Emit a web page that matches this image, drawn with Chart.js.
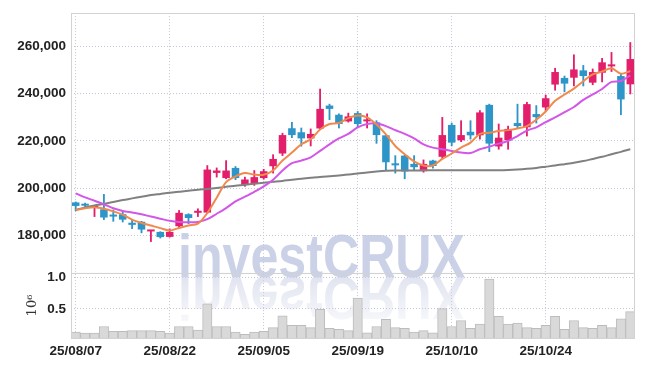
<!DOCTYPE html>
<html>
<head>
<meta charset="utf-8">
<script src="https://cdn.jsdelivr.net/npm/chart.js@4.4.1/dist/chart.umd.min.js"></script>
<style>
  body { margin: 0; background: #fff; }
  #box { width: 645px; height: 366px; }
</style>
</head>
<body>
<div id="box"><canvas id="Canvas"></canvas></div>
<script>
// dados do grafico
let datas = ["25/08/07","25/08/08","25/08/11","25/08/12","25/08/13","25/08/14","25/08/18","25/08/19","25/08/20","25/08/21",
  "25/08/22","25/08/25","25/08/26","25/08/27","25/08/28","25/08/29","25/09/01","25/09/02","25/09/03","25/09/04",
  "25/09/05","25/09/08","25/09/09","25/09/10","25/09/11","25/09/12","25/09/15","25/09/16","25/09/17","25/09/18",
  "25/09/19","25/09/22","25/09/23","25/09/24","25/09/25","25/09/26","25/09/29","25/09/30","25/10/01","25/10/02",
  "25/10/10","25/10/13","25/10/14","25/10/15","25/10/16","25/10/17","25/10/20","25/10/21","25/10/22","25/10/23",
  "25/10/24","25/10/27","25/10/28","25/10/29","25/10/30","25/10/31","25/11/03","25/11/04","25/11/05","25/11/06"];

let abertura = [194000,192900,191700,191100,188600,189000,185400,185800,181700,181500,
  179400,183900,189000,189600,189700,206500,204300,208600,201500,202000,
  204300,209300,214700,225400,223700,221100,225300,235000,231100,228300,
  231800,228300,227900,222400,210400,213800,210300,207200,211700,213300,
  226800,220300,223900,222400,235300,217700,220300,227600,225800,231400,
  234200,243900,246700,246800,249900,244700,248900,251600,247500,244000];
let maxima = [194200,193700,192400,197400,190800,190200,186400,186000,182200,181600,
  182800,190600,189200,191300,209600,208600,211700,209200,204700,207500,
  208000,214200,223300,227900,225500,225100,242000,235600,231500,231800,
  232500,231500,228600,222500,213800,214000,213800,212000,211900,230000,
  227600,228600,228600,232900,235600,227200,226300,235600,236400,235000,
  239400,250800,247500,256500,252000,250500,255000,257500,248500,261700];
let minima = [190400,191500,188000,186700,186000,185700,182900,181100,177400,178900,
  179300,183200,185000,188000,189300,204700,204000,203600,200800,201200,
  203800,206400,213800,221400,217800,217900,224900,229000,225500,228000,
  225800,225500,219000,207500,206400,204000,207500,206800,208500,212400,
  217900,219700,220800,220800,215500,216500,216500,225500,222100,227600,
  232800,241500,240800,243300,243300,243800,245000,249400,231100,239900];
let fechamento = [192500,192600,192200,187600,188000,186700,184500,182500,182100,179300,
  181500,189600,187400,190300,207900,207500,207500,204300,203700,204700,
  207200,212400,222500,222500,221100,223000,233600,233600,227200,230400,
  227200,229000,222500,211000,209700,207100,208900,210300,209400,222500,
  219300,222500,222400,232100,218900,221400,225100,226300,235600,230100,
  238100,249200,244300,250300,247500,249200,253300,252400,237600,254700];

let media5 = [190800,191500,191900,191300,190200,188800,186700,185300,184200,183100,
  182100,183200,184200,185000,189500,196000,202600,205000,206400,205800,
  205700,207500,211700,215100,218600,220700,224900,227200,227600,229700,
  230800,230000,227000,222800,217900,214400,211400,209600,209600,212400,
  214700,217200,219300,223000,223500,224200,224600,225300,226300,229000,
  232500,237000,239700,242200,245300,248200,249400,250800,248500,249600];
let media20 = [197800,196100,194700,193200,191500,190400,189700,189000,188000,187100,
  186200,185700,185600,185700,186900,189200,191600,194400,196400,198500,
  200800,203600,207500,210600,211700,213100,215800,218600,221100,223000,
  225800,227200,227400,226300,224600,223000,221100,218600,217200,216500,
  215800,215100,214900,216500,217600,218900,220000,222100,224400,225800,
  228000,230000,232200,234400,237400,239700,242000,245000,245400,247800];
let media60 = [190800,191900,192700,193300,194200,195000,195700,196400,197100,197600,
  198100,198500,198900,199400,199700,200100,200600,201000,201500,201900,
  202300,202700,203100,203600,204000,204400,204800,205100,205400,205800,
  206200,206700,207100,207400,207500,207500,207500,207600,207600,207600,
  207600,207600,207600,207600,207600,207600,207700,207900,208200,208600,
  209100,209600,210200,210800,211500,212400,213300,214400,215400,216500];

let volume = [127000,111000,111000,217000,141000,141000,151000,151000,151000,141000,
  111000,217000,217000,160000,579000,217000,217000,127000,90000,127000,
  141000,198000,389000,236000,236000,198000,493000,189000,170000,151000,
  674000,113000,217000,332000,198000,189000,127000,151000,113000,503000,
  217000,313000,189000,255000,979000,379000,255000,270000,198000,189000,
  236000,379000,170000,313000,198000,189000,236000,198000,341000,455000];

let ticksPreco = [180000, 200000, 220000, 240000, 260000];
let ticksVolume = [500000, 1000000];

let corAlta = "#e31f6b";
let corBaixa = "#2d95c8";
let cores = abertura.map((a, i) => fechamento[i] >= a ? corAlta : corBaixa);
let corpos = abertura.map((a, i) => [a, fechamento[i]]);
let pavios = minima.map((m, i) => [m, maxima[i]]);

let fonteTick = { family: "'Liberation Sans', sans-serif", size: 13.5, weight: "bold" };
let corGrade = "#c3c6d8";

// marca d'agua e bordas dos paineis
const paineis = {
  id: "paineis",
  beforeDatasetsDraw(chart) {
    const ctx = chart.ctx;
    const area = chart.chartArea;
    const texto = "investCRUX";
    ctx.save();
    ctx.font = "bold 62px 'Liberation Sans', sans-serif";
    const w = ctx.measureText(texto).width;
    ctx.translate(area.left + 107, chart.scales.y.bottom + 4);
    ctx.scale(287 / w, 1);
    ctx.fillStyle = "rgba(190,198,225,0.8)";
    ctx.fillText(texto, 0, 0);
    ctx.scale(1, -1);
    const g = ctx.createLinearGradient(0, 0, 0, -46);
    g.addColorStop(0, "rgba(205,210,230,0.6)");
    g.addColorStop(1, "rgba(205,210,230,0.15)");
    ctx.fillStyle = g;
    ctx.fillText(texto, 0, 0);
    ctx.restore();
  },
  afterDatasetsDraw(chart) {
    const ctx = chart.ctx;
    const area = chart.chartArea;
    ctx.save();
    ctx.strokeStyle = "#d2d2d2";
    ctx.lineWidth = 1;
    ["y", "y2"].forEach(id => {
      const s = chart.scales[id];
      ctx.strokeRect(area.left + 0.5, Math.round(s.top) + 0.5, area.right - area.left - 1, s.bottom - s.top);
    });
    ctx.restore();
  }
};

function criarGrafico() {
  let ctx = document.getElementById("Canvas").getContext("2d");

  new Chart(ctx, {
    type: "bar",
    data: {
      labels: datas,
      datasets: [
        { type: "line", label: "MA5", data: media5, yAxisID: "y", borderColor: "#f0894c", borderWidth: 2, pointRadius: 0, tension: 0.3, order: 0 },
        { type: "line", label: "MA20", data: media20, yAxisID: "y", borderColor: "#d256e8", borderWidth: 2, pointRadius: 0, tension: 0.3, order: 0 },
        { type: "line", label: "MA60", data: media60, yAxisID: "y", borderColor: "#808080", borderWidth: 2, pointRadius: 0, tension: 0.3, order: 0 },
        { label: "corpo", data: corpos, yAxisID: "y", backgroundColor: cores, borderWidth: 0, barPercentage: 0.8, categoryPercentage: 1, minBarLength: 2, grouped: false, order: 1 },
        { label: "pavio", data: pavios, yAxisID: "y", backgroundColor: cores, borderWidth: 0, barThickness: 1.2, grouped: false, order: 2 },
        { label: "volume", data: volume, yAxisID: "y2", backgroundColor: "#d9d9d9", borderColor: "#bcbcbc", borderWidth: 1, barPercentage: 1, categoryPercentage: 1, grouped: false, order: 3 }
      ]
    },
    options: {
      responsive: true,
      maintainAspectRatio: false,
      animation: false,
      layout: { padding: { top: 9, right: 10, left: 0, bottom: 0 } },
      plugins: { legend: { display: false }, tooltip: { enabled: false } },
      scales: {
        x: {
          offset: true,
          grid: { offset: false, drawTicks: false, color: c => c.index % 10 === 0 ? corGrade : "transparent", lineWidth: 1 },
          border: { display: false, dash: [1, 2] },
          ticks: {
            autoSkip: false, maxRotation: 0, padding: 5, color: "#222", font: fonteTick,
            callback: function (v, i) { return i % 10 === 0 ? datas[i] : ""; }
          },
          afterFit: s => { s.height = 28; }
        },
        y2: {
          position: "left",
          stack: "paineis",
          stackWeight: 1,
          min: 32000,
          max: 1075000,
          grid: { drawTicks: false, color: corGrade },
          border: { display: false, dash: [1, 2] },
          title: { display: true, text: "10\u2076", color: "#333", font: { family: "'DejaVu Serif', serif", size: 13 }, padding: { top: 25, bottom: 0 } },
          ticks: { padding: 5, color: "#222", font: fonteTick, callback: v => (v / 1000000).toFixed(1) },
          afterBuildTicks: s => { s.ticks = ticksVolume.map(v => ({ value: v })); },
          afterFit: s => { s.width = 71; }
        },
        y: {
          position: "left",
          stack: "paineis",
          stackWeight: 4,
          min: 164100,
          max: 274150,
          grid: { drawTicks: false, color: corGrade },
          border: { display: false, dash: [1, 2] },
          ticks: { padding: 5, color: "#222", font: fonteTick, callback: v => v.toLocaleString("en-US") },
          afterBuildTicks: s => { s.ticks = ticksPreco.map(v => ({ value: v })); },
          afterFit: s => { s.width = 71; }
        }
      }
    },
    plugins: [paineis]
  });
}

criarGrafico();
</script>
</body>
</html>
